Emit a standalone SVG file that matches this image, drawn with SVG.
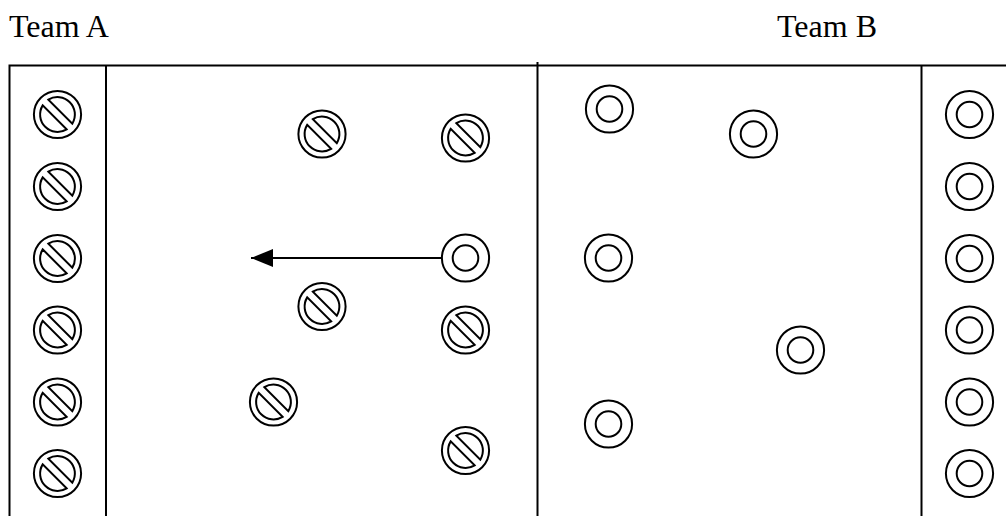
<svg xmlns="http://www.w3.org/2000/svg" xmlns:xlink="http://www.w3.org/1999/xlink" width="1006" height="516" viewBox="0 0 1006 516">
<style>
.ln{stroke:#000;stroke-width:2;fill:none}
.sym{stroke:#000;stroke-width:2;fill:#fff}
.lbl{font-family:"Liberation Serif","Times New Roman",serif;font-size:32px;fill:#000}
</style>
<defs>
<g id="no">
<circle class="sym" r="23.6"/>
<g transform="rotate(45)">
<path class="sym" d="M-16.93,-4 A17.4 17.4 0 0 1 16.93,-4 Z"/>
<path class="sym" d="M16.93,4 A17.4 17.4 0 0 1 -16.93,4 Z"/>
</g>
</g>
<g id="ring">
<circle class="sym" r="23.6"/>
<circle class="sym" r="12.8"/>
</g>
<marker id="ah" markerUnits="userSpaceOnUse" markerWidth="24" markerHeight="20" refX="22" refY="9" orient="auto">
<path d="M0,0 L22,9 L0,18 Z" fill="#000"/>
</marker>
</defs>
<rect width="1006" height="516" fill="#fff"/>
<g id="labels">
<text class="lbl" x="9" y="37">Team A</text>
<text class="lbl" x="877" y="37" text-anchor="end">Team B</text>
</g>
<g id="field">
<path class="ln" d="M9.5,516 V65.5 H1006 M106,65.5 V516 M537.5,62 V516 M921.5,65.5 V516"/>
</g>
<g id="connectors">
<line class="ln" x1="441.5" y1="258" x2="251" y2="258" marker-end="url(#ah)"/>
</g>
<g id="teamA">
<use id="a1" xlink:href="#no" x="57.5" y="114.5"/>
<use id="a2" xlink:href="#no" x="57.5" y="186.5"/>
<use id="a3" xlink:href="#no" x="57.5" y="258.5"/>
<use id="a4" xlink:href="#no" x="57.5" y="330"/>
<use id="a5" xlink:href="#no" x="57.5" y="402"/>
<use id="a6" xlink:href="#no" x="57.5" y="473.5"/>
<use id="a7" xlink:href="#no" x="322" y="134"/>
<use id="a8" xlink:href="#no" x="465.5" y="138"/>
<use id="a9" xlink:href="#no" x="322" y="306.5"/>
<use id="a10" xlink:href="#no" x="465.5" y="330"/>
<use id="a11" xlink:href="#no" x="273.5" y="402"/>
<use id="a12" xlink:href="#no" x="465.5" y="450.5"/>
</g>
<g id="teamB">
<use id="b0" xlink:href="#ring" x="465.5" y="258"/>
<use id="b1" xlink:href="#ring" x="609.5" y="109"/>
<use id="b2" xlink:href="#ring" x="753.5" y="134"/>
<use id="b3" xlink:href="#ring" x="608.5" y="258"/>
<use id="b4" xlink:href="#ring" x="800.5" y="350"/>
<use id="b5" xlink:href="#ring" x="608.5" y="424"/>
<use id="b6" xlink:href="#ring" x="969.5" y="114.5"/>
<use id="b7" xlink:href="#ring" x="969.5" y="186.5"/>
<use id="b8" xlink:href="#ring" x="969.5" y="258.5"/>
<use id="b9" xlink:href="#ring" x="969.5" y="330"/>
<use id="b10" xlink:href="#ring" x="969.5" y="402"/>
<use id="b11" xlink:href="#ring" x="969.5" y="473.5"/>
</g>
</svg>
